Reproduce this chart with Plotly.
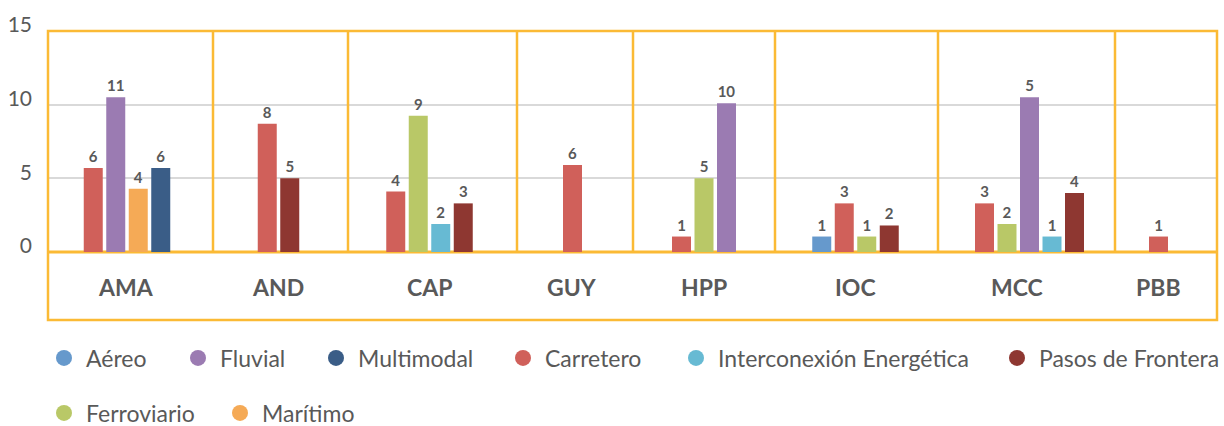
import plotly.graph_objects as go

categories = ["AMA", "AND", "CAP", "GUY", "HPP", "IOC", "MCC", "PBB"]

# bar heights as drawn in the chart, and the number printed above each bar
aereo_h = [None, None, None, None, None, 1.05, None, None]
aereo_lbl = [None, None, None, None, None, 1, None, None]
carretero_h = [5.7, 8.7, 4.1, 5.9, 1.05, 3.3, 3.3, 1.05]
carretero_lbl = [6, 8, 4, 6, 1, 3, 3, 1]
ferroviario_h = [None, None, 9.25, None, 5.0, 1.05, 1.9, None]
ferroviario_lbl = [None, None, 9, None, 5, 1, 2, None]
fluvial_h = [10.5, None, None, None, 10.1, None, 10.5, None]
fluvial_lbl = [11, None, None, None, 10, None, 5, None]
interconexion_h = [None, None, 1.9, None, None, None, 1.05, None]
interconexion_lbl = [None, None, 2, None, None, None, 1, None]
maritimo_h = [4.3, None, None, None, None, None, None, None]
maritimo_lbl = [4, None, None, None, None, None, None, None]
multimodal_h = [5.7, None, None, None, None, None, None, None]
multimodal_lbl = [6, None, None, None, None, None, None, None]
pasos_h = [None, 5.0, 3.3, None, None, 1.8, 4.0, None]
pasos_lbl = [None, 5, 3, None, None, 2, 4, None]

y_ticks = [0, 5, 10, 15]

# name, heights, labels, colour  (order of the bars inside a group)
series = [
    ("Aéreo", aereo_h, aereo_lbl, "#6699CC"),
    ("Carretero", carretero_h, carretero_lbl, "#D0605A"),
    ("Ferroviario", ferroviario_h, ferroviario_lbl, "#B9C867"),
    ("Fluvial", fluvial_h, fluvial_lbl, "#9B7BB2"),
    ("Interconexión Energética", interconexion_h, interconexion_lbl, "#67BAD3"),
    ("Marítimo", maritimo_h, maritimo_lbl, "#F5AA56"),
    ("Multimodal", multimodal_h, multimodal_lbl, "#3A5D87"),
    ("Pasos de Frontera", pasos_h, pasos_lbl, "#8E3731"),
]
legend_order = ["Aéreo", "Fluvial", "Multimodal", "Carretero",
                "Interconexión Energética", "Pasos de Frontera",
                "Ferroviario", "Marítimo"]

# layout: x axis runs in pixel units across the plot box
W, H = 1224, 426
X0, X1 = 48, 1217
TOP, BOTTOM = 31, 320
group_x = [127, 278.5, 429.5, 572.5, 704, 855.5, 1029.5, 1158.5]
label_x = [126, 277.5, 429, 572, 704, 855, 1017, 1158]
dividers = [213, 348, 517, 633, 775, 938, 1115]
STEP, BAR_W = 22.5, 19
YELLOW = "#FBBA35"
GREY = "#595959"
# legend marker centres (px) per entry
legend_pos = [(62, 358), (196, 358), (334, 358), (521, 358), (694, 358),
              (1015, 358), (62, 413), (238, 413)]

# work out the slot of every bar inside its group
bar_x = {name: [None] * len(categories) for name, *_ in series}
for i in range(len(categories)):
    present = [s[0] for s in series if s[1][i] is not None]
    n = len(present)
    for k, name in enumerate(present):
        bar_x[name][i] = group_x[i] + (k - (n - 1) / 2) * STEP

fig = go.Figure()

for name, heights, labels, color in series:
    xs = [x for x, h in zip(bar_x[name], heights) if h is not None]
    ys = [h for h in heights if h is not None]
    ts = [str(l) for l, h in zip(labels, heights) if h is not None]
    fig.add_trace(go.Bar(
        x=xs, y=ys, width=BAR_W,
        marker=dict(color=color, line=dict(width=0)),
        text=ts, textposition="outside", textangle=0,
        outsidetextfont=dict(family="Lato", size=15, color=GREY, weight="bold"),
        cliponaxis=False, showlegend=False, hoverinfo="skip",
    ))

colors = {s[0]: s[3] for s in series}
plot_w = X1 - X0
plot_h = BOTTOM - TOP
legends = {}
for k, name in enumerate(legend_order):
    key = "legend" if k == 0 else f"legend{k + 1}"
    fig.add_trace(go.Scatter(
        x=[None], y=[None], mode="markers", name=name,
        marker=dict(symbol="circle", size=16, color=colors[name]),
        legend=key, showlegend=True,
    ))
    px, py = legend_pos[k]
    legends[key] = dict(
        x=(px - 20 - X0) / plot_w, y=(BOTTOM - py) / plot_h,
        xanchor="left", yanchor="middle", orientation="h",
        bgcolor="rgba(0,0,0,0)", borderwidth=0, itemwidth=34,
        font=dict(family="Lato", size=23, color=GREY),
    )

shapes = [dict(type="line", xref="x", yref="y", x0=X0, x1=X1, y0=0, y1=0,
               line=dict(color=YELLOW, width=3), layer="between")]
for d in dividers:
    shapes.append(dict(type="line", xref="x", yref="y", x0=d, x1=d, y0=0, y1=15,
                       line=dict(color=YELLOW, width=2.5), layer="between"))
shapes.append(dict(type="rect", xref="paper", yref="paper", x0=0, x1=1, y0=0, y1=1,
                   line=dict(color=YELLOW, width=2.5), layer="above"))

annotations = [dict(x=cx, y=-2.4, xref="x", yref="y", text=c, showarrow=False,
                    font=dict(family="Lato", size=23, color=GREY, weight="bold"))
               for cx, c in zip(label_x, categories)]

fig.update_layout(
    width=W, height=H,
    margin=dict(l=X0, r=W - X1, t=TOP, b=H - BOTTOM, pad=0, autoexpand=False),
    plot_bgcolor="white", paper_bgcolor="white",
    font=dict(family="Lato", color=GREY),
    barmode="overlay",
    shapes=shapes,
    annotations=annotations,
    xaxis=dict(range=[X0, X1], showgrid=False, zeroline=False, automargin=False,
               showticklabels=False, ticks="", fixedrange=True),
    yaxis=dict(range=[15 - plot_h / (221 / 15), 15], tickvals=y_ticks,
               showgrid=True, gridcolor="#D9D9D9", gridwidth=2, automargin=False,
               zeroline=False, ticks="", ticklabelstandoff=15, ticklabelshift=-6,
               tickfont=dict(family="Lato", size=21, color=GREY)),
    **legends,
)

# drop the page's default body margin so the figure fills the window exactly
fig.write_html("out.html", config={"displayModeBar": False},
               post_script="document.body.style.margin = '0';")
